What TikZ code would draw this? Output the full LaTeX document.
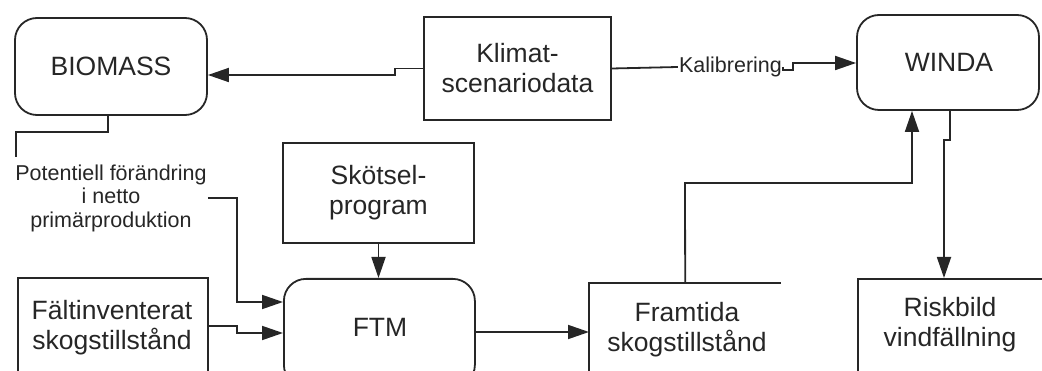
\documentclass[tikz,border=0pt]{standalone}
\usepackage{fontspec}
\setmainfont{Liberation Sans}
\usetikzlibrary{arrows.meta}
\definecolor{ink}{HTML}{262626}
\tikzset{
  ln/.style={draw=ink, line width=1.8pt},
  arr/.style={ln, -{Triangle[length=21pt,width=14pt]}},
  box/.style={ln, rectangle, inner sep=0pt},
  rbox/.style={box, rounded corners=22pt},
  big/.style={text=ink, align=center, inner sep=0pt, font=\fontsize{26.5}{30}\selectfont},
  small/.style={text=ink, align=center, inner sep=1pt, font=\fontsize{21.5}{23.5}\selectfont},
  hid/.style={rectangle, inner sep=0pt}
}
\begin{document}
\begin{tikzpicture}[x=1pt,y=-1pt]
\clip (0,0) rectangle (1042,371);
% boxes
\node[rbox, minimum width=192pt, minimum height=97pt] (bio) at (111,66.5) {};
\node[big] at (111,66) {BIOMASS};
\node[box, minimum width=187pt, minimum height=103pt] (klim) at (517.5,68.5) {};
\node[big] at (517.5,68.5) {Klimat-\\scenariodata};
\node[rbox, minimum width=182pt, minimum height=95pt] (winda) at (948,62.5) {};
\node[big] at (949,62) {WINDA};
\node[small] (kal) at (730.5,67) {Kalibrering};
\node[small] (pot) at (111,198) {Potentiell förändring\\i netto\\primärproduktion};
\coordinate (potend) at (16,157);
\node[box, minimum width=191pt, minimum height=100pt] (sko) at (378.5,193) {};
\node[big] at (378.5,193) {Skötsel-\\program};
\node[rbox, minimum width=191pt, minimum height=108pt, anchor=north west] (ftm) at (283,278) {};
\node[big] at (380,327) {FTM};
\node[box, minimum width=190pt, minimum height=130pt, anchor=north west] (faltbox) at (17,277) {};
\node[big] (falt) at (112,327.5) {Fältinventerat\\skogstillstånd};
\node[hid, minimum width=192pt, minimum height=130pt, anchor=north west] (frambox) at (589,283) {};
\draw[ln] (frambox.south west) |- (frambox.north east);
\node[big] (fram) at (687,330) {Framtida\\skogstillstånd};
\node[box, minimum width=190pt, minimum height=130pt, anchor=north west] (riskbox) at (857,278) {};
\node[big] (risk) at (950,325) {Riskbild\\vindfällning};
% connectors
\draw[arr] (klim.west) -- (395,68.5) -- (395,75) -- (0,75 -| bio.east);
\draw[ln] (klim.east) -- (kal.west);
\draw[arr] (kal.east) |- (793,70) -- (793,63) -- (0,63 -| winda.west);
\draw[ln] (108,0 |- bio.south) -- (108,132) -- (16,132) -- (potend);
\draw[arr] (pot.east) -- (237,198) -- (237,302) -- (0,302 -| ftm.west);
\draw[arr] (faltbox.north east |- 0,326) -- (237,326) -- (237,333) -- (0,333 -| ftm.west);
\draw[arr] (sko.south) -- (sko.south |- ftm.north);
\draw[arr] (ftm.east |- 0,332) -- (0,332 -| frambox.west);
\draw[arr] (frambox.north) -- (685,183) -- (912,183) -- (912,0 |- winda.south);
\draw[arr] (950,0 |- winda.south) -- (950,140) -- (944,140) -- (944,0 |- riskbox.north);
\end{tikzpicture}
\end{document}
